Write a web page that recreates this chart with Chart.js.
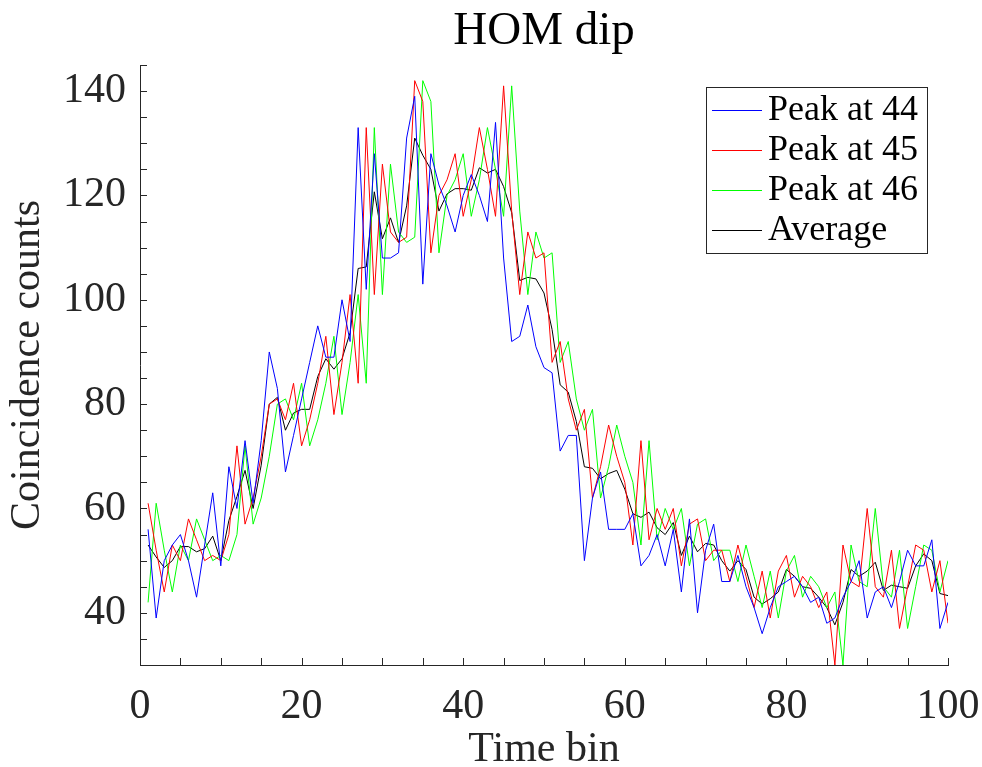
<!DOCTYPE html>
<html>
<head>
<meta charset="utf-8">
<title>HOM dip</title>
<script src="https://cdn.jsdelivr.net/npm/chart.js@4.4.1/dist/chart.umd.min.js"></script>
<style>
  html, body { margin: 0; padding: 0; background: #fff; }
  #wrap { width: 982px; height: 767px; }
</style>
</head>
<body>
<div id="wrap"><canvas id="homChart" width="982" height="767"></canvas></div>
<script>
// --------------------------
// Data
// --------------------------
const timeBins = [
  1, 2, 3, 4, 5, 6, 7, 8, 9, 10, 11, 12, 13, 14, 15, 16, 17, 18, 19, 20,
  21, 22, 23, 24, 25, 26, 27, 28, 29, 30, 31, 32, 33, 34, 35, 36, 37, 38, 39, 40,
  41, 42, 43, 44, 45, 46, 47, 48, 49, 50, 51, 52, 53, 54, 55, 56, 57, 58, 59, 60,
  61, 62, 63, 64, 65, 66, 67, 68, 69, 70, 71, 72, 73, 74, 75, 76, 77, 78, 79, 80,
  81, 82, 83, 84, 85, 86, 87, 88, 89, 90, 91, 92, 93, 94, 95, 96, 97, 98, 99, 100,
];

const peak44 = [
  56, 39, 50, 53, 55, 50, 43, 53, 63, 49, 68, 60, 73, 61, 73, 90, 83, 67, 74, 81,
  88, 95, 89, 89, 100, 92, 133, 102, 128, 108, 108, 109, 131, 139, 103, 128, 122, 118, 113, 120,
  124, 120, 115, 134, 108, 92, 93, 99, 91, 87, 86, 71, 74, 74, 50, 62, 67, 56, 56, 56,
  59, 49, 51, 55, 49, 56, 44, 58, 40, 52, 57, 46, 46, 51, 45, 41, 36, 41, 45, 46,
  47, 45, 42, 43, 38, 39, 43, 46, 50, 39, 44, 45, 41, 46, 52, 49, 49, 54, 37, 42,
];

const peak45 = [
  61, 52, 44, 53, 50, 58, 54, 50, 51, 50, 55, 72, 57, 62, 70, 80, 81, 77, 84, 72,
  77, 84, 93, 78, 88, 101, 84, 133, 101, 126, 113, 111, 112, 142, 138, 109, 120, 123, 128, 116,
  123, 133, 125, 116, 141, 117, 101, 113, 108, 109, 88, 92, 81, 75, 79, 62, 68, 76, 70, 65,
  53, 73, 54, 60, 56, 60, 49, 57, 58, 50, 52, 52, 46, 53, 47, 41, 48, 39, 48, 51,
  43, 47, 45, 41, 44, 30, 53, 46, 45, 60, 45, 43, 52, 37, 45, 53, 52, 44, 50, 38,
];

const peak46 = [
  42, 61, 52, 44, 53, 50, 58, 54, 50, 51, 50, 55, 72, 57, 62, 70, 80, 81, 77, 84,
  72, 77, 84, 93, 78, 88, 101, 84, 133, 101, 126, 113, 111, 112, 142, 138, 109, 120, 123, 128,
  116, 123, 133, 125, 116, 141, 117, 101, 113, 108, 109, 88, 92, 81, 75, 79, 62, 68, 76, 70,
  65, 53, 73, 54, 60, 56, 60, 49, 57, 58, 50, 52, 52, 46, 53, 47, 41, 48, 39, 48,
  51, 43, 47, 45, 41, 44, 30, 53, 46, 45, 60, 45, 43, 52, 37, 45, 53, 52, 44, 50,
];

const average = [
  53.0, 50.7, 48.7, 50.0, 52.7, 52.7, 51.7, 52.3, 54.7, 50.0, 57.7, 62.3, 67.3, 60.0, 68.3, 80.0, 81.3, 75.0, 78.3, 79.0,
  79.0, 85.3, 88.7, 86.7, 88.7, 93.7, 106.0, 106.3, 120.7, 111.7, 115.7, 111.0, 118.0, 131.0, 127.7, 125.0, 117.0, 120.3, 121.3, 121.3,
  121.0, 125.3, 124.3, 125.0, 121.7, 116.7, 103.7, 104.3, 104.0, 101.3, 94.3, 83.7, 82.3, 76.7, 68.0, 67.7, 65.7, 66.7, 67.3, 63.7,
  59.0, 58.3, 59.3, 56.3, 55.0, 57.3, 51.0, 54.7, 51.7, 53.3, 53.0, 50.0, 48.0, 50.0, 48.3, 43.0, 41.7, 42.7, 44.0, 48.3,
  47.0, 45.0, 44.7, 43.0, 41.0, 37.7, 42.0, 48.3, 47.0, 48.0, 49.7, 44.3, 45.3, 45.0, 44.7, 49.0, 51.3, 50.0, 43.7, 43.3,
];

const xTickValues = [0, 20, 40, 60, 80, 100];
const yTickValues = [40, 60, 80, 100, 120, 140];
const chartTitle = "HOM dip";

// --------------------------
// Style helpers
// --------------------------
const serif = "'Liberation Serif', 'Times New Roman', serif";
const axisColor = "#262626";

function toPoints(values) {
  return timeBins.map((t, i) => ({ x: t, y: values[i] }));
}

// Title centred over the plot area (not the whole canvas)
const plotTitle = {
  id: "plotTitle",
  afterDraw(chart) {
    const { ctx, chartArea } = chart;
    ctx.save();
    ctx.font = "47px " + serif;
    ctx.fillStyle = "#000";
    ctx.textAlign = "center";
    ctx.textBaseline = "alphabetic";
    ctx.fillText(chartTitle, (chartArea.left + chartArea.right) / 2, 44);
    ctx.restore();
  },
};

// MATLAB-style inward tick marks every 5 units
const inwardTicks = {
  id: "inwardTicks",
  afterDatasetsDraw(chart) {
    const { ctx, chartArea, scales } = chart;
    const len = 7;
    ctx.save();
    ctx.strokeStyle = axisColor;
    ctx.lineWidth = 1;
    ctx.beginPath();
    for (let v = scales.x.min; v <= scales.x.max; v += 5) {
      const px = Math.round(scales.x.getPixelForValue(v)) + 0.5;
      ctx.moveTo(px, chartArea.bottom);
      ctx.lineTo(px, chartArea.bottom - len);
    }
    for (let v = scales.y.min; v <= scales.y.max; v += 5) {
      const py = Math.round(scales.y.getPixelForValue(v)) + 0.5;
      ctx.moveTo(chartArea.left, py);
      ctx.lineTo(chartArea.left + len, py);
    }
    ctx.stroke();
    ctx.restore();
  },
};

// Boxed legend in the upper right of the plot area
const boxLegend = {
  id: "boxLegend",
  afterDraw(chart) {
    const { ctx, chartArea } = chart;
    const w = 221, h = 166;
    const x0 = chartArea.right - 21 - w;
    const y0 = chartArea.top + 22;
    ctx.save();
    ctx.fillStyle = "#fff";
    ctx.fillRect(x0, y0, w, h);
    ctx.strokeStyle = axisColor;
    ctx.lineWidth = 1;
    ctx.strokeRect(x0 + 0.5, y0 + 0.5, w, h);
    ctx.font = "36px " + serif;
    ctx.textBaseline = "middle";
    chart.data.datasets.forEach((ds, i) => {
      const cy = y0 + 23 + i * 40;
      ctx.strokeStyle = ds.borderColor;
      ctx.beginPath();
      ctx.moveTo(x0 + 6, cy + 0.5);
      ctx.lineTo(x0 + 56, cy + 0.5);
      ctx.stroke();
      ctx.fillStyle = "#000";
      ctx.fillText(ds.label, x0 + 62, cy + 1);
    });
    ctx.restore();
  },
};

// --------------------------
// Chart
// --------------------------
new Chart(document.getElementById("homChart"), {
  type: "line",
  data: {
    datasets: [
      { label: "Peak at 44", data: toPoints(peak44), borderColor: "#0000ff" },
      { label: "Peak at 45", data: toPoints(peak45), borderColor: "#ff0000" },
      { label: "Peak at 46", data: toPoints(peak46), borderColor: "#00ff00" },
      { label: "Average", data: toPoints(average), borderColor: "#000000" },
    ],
  },
  options: {
    responsive: false,
    animation: false,
    layout: { padding: { left: 0, right: 34, top: 65, bottom: 0 } },
    elements: {
      line: { borderWidth: 1, tension: 0 },
      point: { radius: 0, hoverRadius: 0 },
    },
    plugins: {
      legend: { display: false },
      tooltip: { enabled: false },
      title: { display: false },
    },
    scales: {
      x: {
        type: "linear",
        min: 0,
        max: 100,
        grid: { display: false, drawTicks: false },
        border: { display: true, color: axisColor, width: 1 },
        afterBuildTicks: (s) => { s.ticks = xTickValues.map((v) => ({ value: v })); },
        afterFit: (s) => { s.height = 102; s.paddingLeft = 0; s.paddingRight = 0; },
        ticks: {
          color: axisColor,
          padding: 17,
          maxRotation: 0,
          autoSkip: false,
          font: { family: serif, size: 42 },
        },
        title: {
          display: true,
          text: "Time bin",
          color: axisColor,
          font: { family: serif, size: 42, lineHeight: 0.8 },
          padding: { top: 0, bottom: 0 },
        },
      },
      y: {
        type: "linear",
        min: 30,
        max: 145,
        grid: { display: false, drawTicks: false },
        border: { display: true, color: axisColor, width: 1 },
        afterBuildTicks: (s) => { s.ticks = yTickValues.map((v) => ({ value: v })); },
        afterFit: (s) => { s.width = 140; s.paddingTop = 0; s.paddingBottom = 0; },
        ticks: {
          color: axisColor,
          padding: 14,
          autoSkip: false,
          font: { family: serif, size: 42 },
        },
        title: {
          display: true,
          text: "Coincidence counts",
          color: axisColor,
          font: { family: serif, size: 42 },
          padding: { top: 3, bottom: 0 },
        },
      },
    },
  },
  plugins: [inwardTicks, boxLegend, plotTitle],
});
</script>
</body>
</html>
